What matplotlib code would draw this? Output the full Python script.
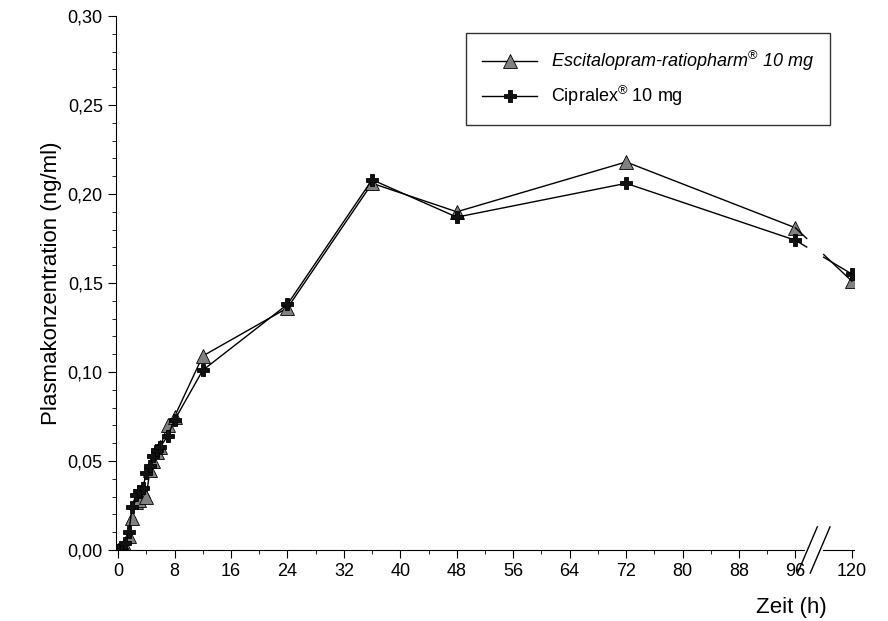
import matplotlib
matplotlib.use("Agg")
import matplotlib.pyplot as plt
import numpy as np

plt.rcParams['font.family'] = ['Liberation Sans', 'DejaVu Sans']
plt.rcParams['mathtext.fontset'] = 'custom'
plt.rcParams['mathtext.rm'] = 'Liberation Sans'
plt.rcParams['mathtext.it'] = 'Liberation Sans:italic'

t = [0, 0.5, 1, 1.5, 2, 2.5, 3, 3.5, 4, 4.5, 5, 5.5, 6, 7, 8, 12, 24, 36, 48, 72, 96, 120]
escit = [0, 0, 0.002, 0.008, 0.018, 0.027, 0.028, 0.033, 0.030, 0.045, 0.050, 0.055, 0.058,
         0.070, 0.075, 0.109, 0.136, 0.206, 0.190, 0.218, 0.181, 0.151]
cipr = [0, 0, 0.004, 0.010, 0.024, 0.031, 0.033, 0.035, 0.043, 0.047, 0.053, 0.056, 0.058,
        0.064, 0.073, 0.101, 0.138, 0.208, 0.187, 0.206, 0.174, 0.155]
xticks = [0, 8, 16, 24, 32, 40, 48, 56, 64, 72, 80, 88, 96, 120]

def pos(x):
    x = np.asarray(x, float)
    return np.where(x > 96, 96 + (x - 96) / 3.0, x)

fig = plt.figure(figsize=(8.88, 6.21), dpi=100)
ax = fig.add_axes([116/888, 1-550/621, (854-116)/888, (550-16)/621])
ax.set_xlim(-0.3, pos(120) + 0.3)
ax.set_ylim(0, 0.30)

for y, mk, col, ms, lab in [(escit, '^', '#808080', 10, 'Escitalopram-ratiopharm$^{®}$ 10 mg'),
                            (cipr, 'P', '#111111', 9, 'Cipralex$^{®}$ 10 mg')]:
    xs = pos(t)
    ax.plot(xs[:-1], y[:-1], color='black', lw=1.0, marker=mk, ms=ms, mfc=col, mec='black', mew=0.6, label=lab)
    ax.plot(xs[-1:], y[-1:], color='black', lw=0, marker=mk, ms=ms, mfc=col, mec='black', mew=0.6)
    x0, x1 = xs[-2], xs[-1]
    y0, y1 = y[-2], y[-1]
    f = lambda s: (x0 + s*(x1-x0), y0 + s*(y1-y0))
    a, b = f(0.0), f(0.2)
    ax.plot([a[0], b[0]], [a[1], b[1]], color='black', lw=1.0)
    a, b = f(0.5), f(1.0)
    ax.plot([a[0], b[0]], [a[1], b[1]], color='black', lw=1.0)

ax.spines['top'].set_visible(False)
ax.spines['right'].set_visible(False)
ax.set_xticks(pos(xticks))
ax.set_xticklabels([str(v) for v in xticks], fontsize=13)
ax.set_xticks(pos(np.arange(4, 96, 8)), minor=True)
ax.set_yticks(np.arange(0, 0.301, 0.05))
ax.set_yticklabels([f"{v:.2f}".replace('.', ',') for v in np.arange(0, 0.301, 0.05)], fontsize=13)
ax.set_yticks(np.arange(0, 0.30, 0.01), minor=True)
ax.tick_params(which='major', length=6)
ax.tick_params(which='minor', length=3)

# axis break marks
ax.plot([97.6, 99.6], [0, 0], color='white', lw=3, clip_on=False, zorder=5)
for xc in [97.7, 99.5]:
    ax.plot([xc-1.4, xc+1.4], [-0.013, 0.013], color='black', lw=1, clip_on=False, zorder=6)

ax.set_ylabel('Plasmakonzentration (ng/ml)', fontsize=16)
fig.text(827/888, 1-607/621, 'Zeit (h)', fontsize=16, ha='right', va='center')

leg = ax.legend(loc='upper right', bbox_to_anchor=(0.98, 0.985), fontsize=13, frameon=True,
                fancybox=False, edgecolor='black', borderpad=0.9, handlelength=3, labelspacing=0.6)
leg.get_frame().set_linewidth(1.0)
leg.get_texts()[0].set_fontstyle('italic')

fig.savefig('out.png', dpi=100)
